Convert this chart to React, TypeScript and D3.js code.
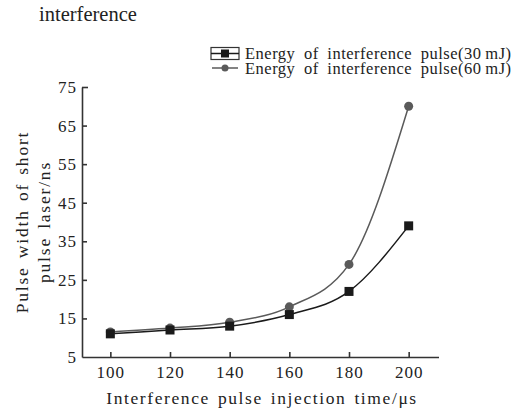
import { useEffect, useRef } from 'react';
import * as d3 from 'd3';

const times = [100, 120, 140, 160, 180, 200];
const pulse30 = [11, 12, 13, 16, 22, 39];
const pulse60 = [11.5, 12.5, 14, 18, 29, 70];
const xTicks = [100, 120, 140, 160, 180, 200];
const yTicks = [5, 15, 25, 35, 45, 55, 65, 75];
const seriesNames = ['Energy of interference pulse(30\u2009mJ)', 'Energy of interference pulse(60\u2009mJ)'];

const W = 523;
const H = 410;
const FONT = "'Liberation Serif', Times, 'DejaVu Serif', serif";

const App = () => {
  const svgRef = useRef<SVGSVGElement | null>(null);

  useEffect(() => {
    if (!svgRef.current) return;
    const svg = d3.select(svgRef.current);
    svg.selectAll('*').remove();

    const x = d3.scaleLinear().domain([90.5, 210]).range([82, 438.5]);
    const y = d3.scaleLinear().domain([5, 75]).range([357, 87]);

    svg.append('rect').attr('width', W).attr('height', H).attr('fill', '#fff');

    svg.append('text')
      .attr('x', 39).attr('y', 20.5)
      .style('font-family', FONT).style('font-size', '20.5px').attr('fill', '#222')
      .text('interference');

    // axes (ticks point inward)
    const xAxis = svg.append('g')
      .attr('transform', `translate(0,${y(5)})`)
      .call(d3.axisBottom(x).tickValues(xTicks).tickSizeInner(-5).tickSizeOuter(0).tickPadding(9));
    const yAxis = svg.append('g')
      .attr('transform', `translate(${x(90.5)},0)`)
      .call(d3.axisLeft(y).tickValues(yTicks).tickSizeInner(-5).tickSizeOuter(0).tickPadding(5));

    [xAxis, yAxis].forEach(a => {
      a.attr('font-family', null).attr('font-size', null);
      a.selectAll('path,line').attr('stroke', '#333').attr('stroke-width', 1.6);
      a.selectAll('text')
        .style('font-family', FONT).style('font-size', '17px').style('letter-spacing', '1px')
        .attr('fill', '#222');
    });
    xAxis.selectAll('text').attr('dy', '0.71em');
    yAxis.select('.tick:first-of-type line').remove();
    yAxis.select('.tick:last-of-type line').attr('x2', 6);

    svg.append('text')
      .attr('x', 262).attr('y', 404)
      .attr('text-anchor', 'middle')
      .style('font-family', FONT).style('font-size', '17.5px').style('letter-spacing', '1.6px')
      .style('word-spacing', '2px').attr('fill', '#222')
      .text('Interference pulse injection time/\u03bcs');

    const yl = svg.append('g').attr('transform', 'translate(0,222) rotate(-90)');
    ['Pulse width of short', 'pulse laser/ns'].forEach((t, i) => {
      yl.append('text')
        .attr('x', 0).attr('y', 28 + i * 22)
        .attr('text-anchor', 'middle')
        .style('font-family', FONT).style('font-size', '17.5px').style('letter-spacing', '1.8px')
        .style('word-spacing', '2px').attr('fill', '#222')
        .text(t);
    });

    const line = d3.line<number>()
      .x((_, i) => x(times[i]))
      .y(d => y(d))
      .curve(d3.curveMonotoneX);

    svg.append('path').datum(pulse60)
      .attr('fill', 'none').attr('stroke', '#5a5a5a').attr('stroke-width', 1.5).attr('d', line);
    svg.append('path').datum(pulse30)
      .attr('fill', 'none').attr('stroke', '#1a1a1a').attr('stroke-width', 1.5).attr('d', line);

    svg.append('g').selectAll('circle').data(pulse60).enter().append('circle')
      .attr('cx', (_, i) => x(times[i])).attr('cy', d => y(d))
      .attr('r', 4.5).attr('fill', '#5a5a5a');
    svg.append('g').selectAll('rect').data(pulse30).enter().append('rect')
      .attr('x', (_, i) => x(times[i]) - 4.5).attr('y', d => y(d) - 4.5)
      .attr('width', 9).attr('height', 9).attr('fill', '#1a1a1a');

    // legend
    const lg = svg.append('g');
    lg.append('rect')
      .attr('x', 211).attr('y', 47.5).attr('width', 28).attr('height', 12)
      .attr('fill', 'none').attr('stroke', '#333').attr('stroke-width', 1.2);
    lg.append('line').attr('x1', 211).attr('x2', 239).attr('y1', 53.5).attr('y2', 53.5)
      .attr('stroke', '#1a1a1a').attr('stroke-width', 1.5);
    lg.append('rect').attr('x', 221).attr('y', 49.5).attr('width', 8).attr('height', 8).attr('fill', '#1a1a1a');
    lg.append('line').attr('x1', 212).attr('x2', 238).attr('y1', 68).attr('y2', 68)
      .attr('stroke', '#5a5a5a').attr('stroke-width', 1.5);
    lg.append('circle').attr('cx', 225).attr('cy', 68).attr('r', 3.5).attr('fill', '#5a5a5a');
    seriesNames.forEach((name, i) => {
      lg.append('text')
        .attr('x', 245).attr('y', 59 + i * 15)
        .style('font-family', FONT).style('font-size', '16.5px')
        .style('letter-spacing', '0.5px').style('word-spacing', '4px')
        .attr('fill', '#222')
        .text(name);
    });
  }, []);

  return (
    <svg ref={svgRef} width={W} height={H}
      style={{ position: 'absolute', left: 0, top: 0, display: 'block' }} />
  );
};

export default App;
